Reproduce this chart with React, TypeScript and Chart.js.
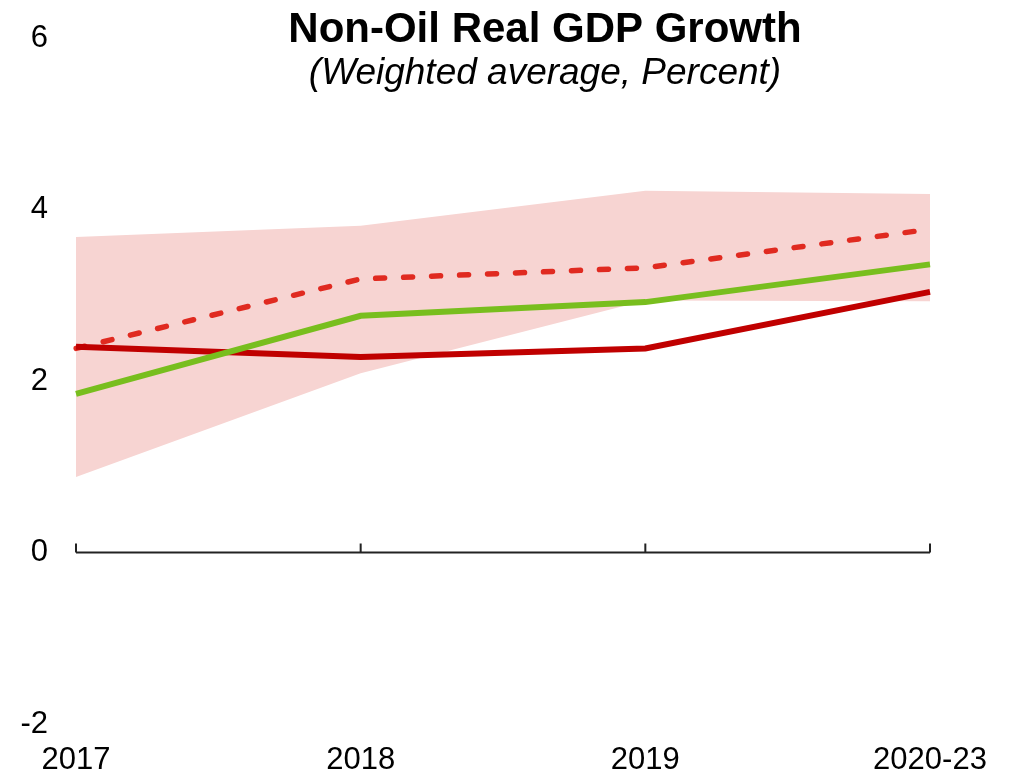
import React, { useEffect, useRef } from "react";
import { Chart, registerables } from "chart.js";

Chart.register(...registerables);

const categories = ["2017", "2018", "2019", "2020-23"];
const bandUpper = [3.68, 3.81, 4.22, 4.18];
const bandLower = [0.88, 2.09, 2.94, 2.93];
const dashedSeries = [2.38, 3.19, 3.32, 3.77];
const darkRedSeries = [2.4, 2.28, 2.38, 3.04];
const greenSeries = [1.85, 2.76, 2.92, 3.36];
const yTicks = [-2, 0, 2, 4, 6];

const titleText = "Non-Oil Real GDP Growth";
const subtitleText = "(Weighted average, Percent)";

const FONT = "'Liberation Sans', Arial, Helvetica, sans-serif";

const overlayPlugin = {
  id: "overlay",
  beforeDatasetsDraw(chart: any) {
    const { ctx, scales } = chart;
    const x = scales.x;
    const y = scales.y;
    const y0 = y.getPixelForValue(0);
    const xl = x.getPixelForValue(0);
    const xr = x.getPixelForValue(categories.length - 1);
    ctx.save();
    ctx.strokeStyle = "#222222";
    ctx.lineWidth = 2;
    ctx.beginPath();
    ctx.moveTo(xl, y0);
    ctx.lineTo(xr, y0);
    for (let i = 0; i < categories.length; i++) {
      const px = x.getPixelForValue(i);
      ctx.moveTo(px, y0);
      ctx.lineTo(px, y0 - 9);
    }
    ctx.stroke();
    ctx.restore();
  },
  afterDraw(chart: any) {
    const { ctx } = chart;
    ctx.save();
    ctx.fillStyle = "#000000";
    ctx.textAlign = "center";
    ctx.textBaseline = "alphabetic";
    ctx.font = `bold 42px ${FONT}`;
    ctx.fillText(titleText, 545, 42);
    ctx.font = `italic 37px ${FONT}`;
    ctx.fillText(subtitleText, 545, 84);
    ctx.restore();
  },
};

export default function App() {
  const ref = useRef<HTMLCanvasElement | null>(null);

  useEffect(() => {
    document.body.style.margin = "0";
    if (!ref.current) return;
    const chart = new Chart(ref.current, {
      type: "line",
      data: {
        labels: categories,
        datasets: [
          {
            label: "Upper",
            data: bandUpper,
            borderWidth: 0,
            borderColor: "rgba(0,0,0,0)",
            backgroundColor: "rgb(247, 212, 210)",
            pointRadius: 0,
            fill: "+1",
            order: 5,
          },
          {
            label: "Lower",
            data: bandLower,
            borderWidth: 0,
            borderColor: "rgba(0,0,0,0)",
            backgroundColor: "rgb(247, 212, 210)",
            pointRadius: 0,
            fill: false,
            order: 5,
          },
          {
            label: "Dashed",
            data: dashedSeries,
            borderColor: "rgb(224, 42, 32)",
            borderWidth: 5.5,
            borderDash: [9, 19],
            borderCapStyle: "round",
            pointRadius: 0,
            fill: false,
            order: 3,
          },
          {
            label: "Dark red",
            data: darkRedSeries,
            borderColor: "rgb(192, 0, 0)",
            borderWidth: 6,
            pointRadius: 0,
            fill: false,
            order: 2,
          },
          {
            label: "Green",
            data: greenSeries,
            borderColor: "rgb(120, 190, 30)",
            borderWidth: 6,
            pointRadius: 0,
            fill: false,
            order: 1,
          },
        ],
      },
      options: {
        animation: false,
        responsive: false,
        maintainAspectRatio: false,
        layout: { padding: { top: 38, right: 82, bottom: 0, left: 0 } },
        plugins: {
          legend: { display: false },
          title: { display: false },
          tooltip: { enabled: false },
        },
        scales: {
          x: {
            type: "category",
            offset: false,
            grid: { display: false, drawTicks: false },
            border: { display: false },
            ticks: {
              color: "#000000",
              font: { family: FONT, size: 31 },
              padding: 18,
              maxRotation: 0,
              autoSkip: false,
            },
            afterFit(scale: any) {
              scale.height = 57;
            },
          },
          y: {
            min: -2,
            max: 6,
            afterBuildTicks(scale: any) {
              scale.ticks = yTicks.map((v) => ({ value: v }));
            },
            grid: { display: false, drawTicks: false },
            border: { display: false },
            ticks: {
              color: "#000000",
              font: { family: FONT, size: 31 },
              padding: 28,
            },
            afterFit(scale: any) {
              scale.width = 76;
              scale.paddingTop = 0;
              scale.paddingBottom = 0;
            },
          },
        },
      },
      plugins: [overlayPlugin],
    });
    return () => chart.destroy();
  }, []);

  return (
    <div style={{ width: 1012, height: 781 }}>
      <canvas ref={ref} width={1012} height={781} style={{ display: "block" }} />
    </div>
  );
}
